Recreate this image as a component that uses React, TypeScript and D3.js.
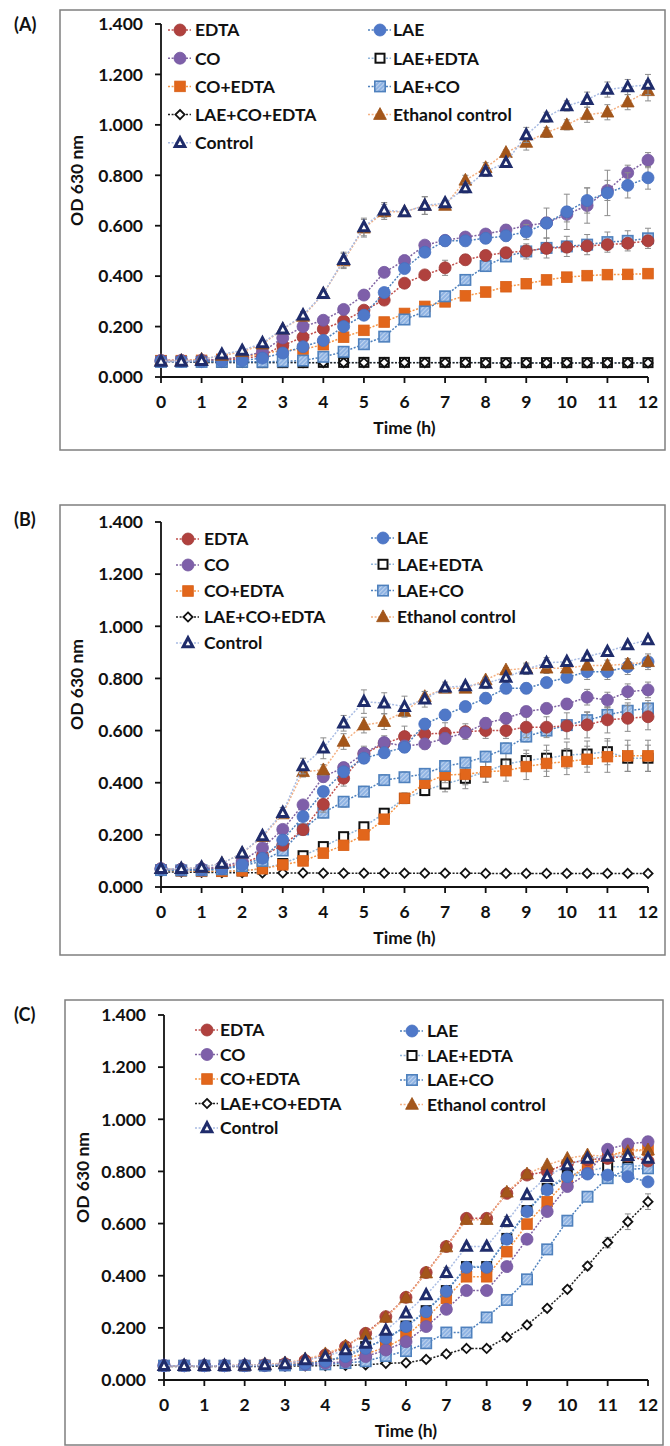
import React from 'react';
import * as d3 from 'd3';

const TIME = [0, 0.5, 1, 1.5, 2, 2.5, 3, 3.5, 4, 4.5, 5, 5.5, 6, 6.5, 7, 7.5, 8, 8.5, 9, 9.5, 10, 10.5, 11, 11.5, 12];
const X_TICKS = [0, 1, 2, 3, 4, 5, 6, 7, 8, 9, 10, 11, 12];
const Y_TICKS = [0, 0.2, 0.4, 0.6, 0.8, 1.0, 1.2, 1.4];
const LEGEND_LEFT = ['EDTA', 'CO', 'CO+EDTA', 'LAE+CO+EDTA', 'Control'];
const LEGEND_RIGHT = ['LAE', 'LAE+EDTA', 'LAE+CO', 'Ethanol control'];
const DRAW_ORDER = ['LAE+EDTA', 'LAE+CO+EDTA', 'CO+EDTA', 'LAE+CO', 'EDTA', 'CO', 'LAE', 'Ethanol control', 'Control'];

// ---------- Panel A ----------
const A_EDTA = [.065, .065, .065, .068, .072, .085, .125, .158, .19, .222, .265, .305, .372, .405, .433, .465, .482, .493, .50, .51, .515, .52, .525, .53, .54];
const A_LAE = [.062, .062, .062, .063, .065, .075, .095, .12, .145, .20, .245, .335, .43, .495, .54, .54, .55, .56, .575, .61, .655, .70, .73, .76, .79];
const A_CO = [.065, .065, .066, .07, .08, .10, .155, .20, .225, .268, .325, .415, .462, .523, .542, .555, .567, .583, .60, .612, .645, .68, .74, .81, .86];
const A_LAE_EDTA = [.065, .062, .06, .058, .058, .057, .057, .057, .058, .058, .058, .058, .058, .058, .058, .058, .057, .057, .057, .057, .057, .057, .057, .057, .057];
const A_CO_EDTA = [.065, .065, .066, .07, .078, .093, .105, .11, .128, .158, .185, .218, .252, .28, .298, .322, .337, .358, .37, .385, .396, .402, .406, .407, .41];
const A_LAE_CO = [.06, .06, .06, .06, .06, .06, .062, .065, .08, .10, .13, .16, .228, .26, .32, .385, .44, .478, .498, .512, .518, .525, .535, .54, .55];
const A_LAE_CO_EDTA = [.062, .06, .058, .058, .058, .058, .058, .057, .057, .057, .057, .057, .057, .057, .057, .057, .056, .056, .056, .056, .056, .056, .056, .056, .056];
const A_ETHANOL = [.065, .065, .07, .085, .10, .13, .19, .24, .33, .46, .59, .655, .655, .68, .68, .78, .83, .89, .93, .97, 1.0, 1.04, 1.05, 1.09, 1.135];
const A_CONTROL = [.062, .062, .065, .09, .105, .135, .19, .245, .33, .465, .595, .662, .655, .68, .69, .75, .815, .85, .96, 1.03, 1.075, 1.10, 1.14, 1.15, 1.16];
const A_ERR_CONTROL = [0, 0, 0, 0, 0, .01, .01, .015, .01, .03, .035, .03, .01, .035, .01, .02, .02, .01, .03, .02, .02, .03, .03, .03, .04];
const A_ERR_LAE = [0, 0, 0, 0, 0, 0, 0, 0, 0, 0, .01, .01, .015, .015, .02, .02, .02, .02, .03, .06, .07, .05, .09, .05, .045];
const A_ERR_CO = [0, 0, 0, 0, 0, 0, 0, 0, 0, 0, 0, 0, .01, .01, .01, .01, .01, .02, .02, .02, .03, .07, .04, .03, .03];
const A_ERR_LAE_CO = [0, 0, 0, 0, 0, 0, 0, 0, 0, 0, 0, 0, 0, 0, .01, .01, .02, .02, .03, .04, .04, .04, .04, .04, .04];
const A_ERR_EDTA = [0, 0, 0, 0, 0, 0, 0, 0, 0, 0, 0, 0, .01, .01, .03, .02, .02, .02, .02, .02, .02, .02, .02, .02, .02];

// ---------- Panel B ----------
const B_EDTA = [.07, .068, .068, .075, .09, .12, .16, .22, .317, .417, .51, .55, .577, .587, .59, .596, .60, .60, .613, .613, .618, .622, .641, .647, .653];
const B_LAE = [.068, .066, .066, .07, .085, .11, .18, .27, .366, .442, .494, .515, .536, .625, .66, .692, .724, .762, .762, .784, .804, .826, .826, .845, .864];
const B_CO = [.07, .068, .07, .078, .10, .15, .221, .315, .423, .458, .513, .554, .541, .549, .57, .592, .628, .647, .673, .685, .702, .728, .717, .749, .756];
const B_LAE_EDTA = [.065, .062, .06, .06, .062, .07, .09, .12, .155, .193, .231, .283, .34, .37, .395, .417, .442, .472, .485, .494, .506, .51, .519, .494, .494];
const B_CO_EDTA = [.065, .062, .06, .06, .062, .07, .085, .10, .13, .16, .20, .26, .34, .398, .43, .432, .442, .446, .462, .474, .481, .49, .50, .503, .503];
const B_LAE_CO = [.065, .064, .064, .068, .08, .10, .14, .221, .285, .327, .366, .41, .421, .434, .464, .477, .50, .532, .577, .60, .621, .64, .66, .676, .685];
const B_LAE_CO_EDTA = [.058, .057, .056, .055, .055, .054, .054, .054, .053, .053, .053, .053, .053, .053, .053, .053, .052, .052, .052, .052, .052, .052, .052, .052, .052];
const B_ETHANOL = [.07, .07, .075, .09, .13, .193, .28, .442, .449, .558, .621, .634, .673, .73, .762, .762, .794, .832, .839, .839, .839, .85, .85, .855, .864];
const B_CONTROL = [.07, .07, .075, .09, .13, .196, .285, .464, .532, .628, .711, .705, .692, .72, .766, .771, .781, .804, .835, .86, .864, .884, .903, .928, .948];
const B_ERR_CONTROL = [0, 0, 0, 0, 0, .01, .02, .03, .04, .03, .045, .04, .04, .03, .02, .01, .02, .01, .02, .02, .01, .01, .01, .01, .01];
const B_ERR_EDTA = [0, 0, 0, 0, 0, 0, .01, .02, .03, .03, .03, .03, .04, .04, .04, .03, .03, .03, .04, .04, .05, .05, .05, .05, .05];
const B_ERR_LAE_EDTA = [0, 0, 0, 0, 0, 0, 0, .01, .01, .01, .01, .01, .02, .02, .03, .04, .04, .04, .04, .05, .05, .05, .05, .05, .05];
const B_ERR_CO_EDTA = [0, 0, 0, 0, 0, 0, 0, 0, .01, .01, .01, .01, .02, .02, .03, .04, .04, .04, .05, .05, .05, .05, .06, .06, .06];
const B_ERR_LAE_CO = [0, 0, 0, 0, 0, 0, .01, .01, .02, .02, .02, .02, .02, .02, .02, .02, .02, .02, .02, .02, .02, .03, .03, .03, .03];
const B_ERR_ETHANOL = [0, 0, 0, 0, 0, .01, .01, .02, .02, .03, .03, .03, .02, .02, .01, .01, .01, .01, .02, .02, .02, .02, .02, .02, .02];

// ---------- Panel C ----------
const C_EDTA = [.055, .055, .055, .055, .056, .058, .062, .075, .096, .128, .179, .243, .317, .412, .512, .62, .62, .716, .786, .80, .83, .845, .85, .86, .84];
const C_LAE = [.055, .055, .055, .055, .055, .056, .058, .062, .072, .09, .121, .16, .205, .262, .34, .432, .432, .54, .646, .73, .78, .79, .786, .78, .76];
const C_CO = [.055, .055, .055, .055, .055, .056, .058, .06, .065, .07, .09, .115, .147, .205, .271, .343, .343, .435, .54, .646, .742, .793, .885, .905, .914];
const C_LAE_EDTA = [.055, .055, .055, .055, .055, .056, .058, .062, .07, .096, .128, .153, .207, .266, .343, .435, .435, .543, .65, .735, .786, .80, .818, .818, .825];
const C_CO_EDTA = [.055, .055, .055, .055, .055, .056, .058, .065, .075, .085, .10, .125, .166, .237, .313, .396, .396, .492, .598, .684, .767, .825, .857, .882, .882];
const C_LAE_CO = [.055, .055, .055, .055, .055, .055, .056, .058, .06, .065, .072, .092, .111, .141, .182, .182, .24, .307, .386, .501, .611, .703, .774, .808, .812];
const C_LAE_CO_EDTA = [.052, .052, .052, .052, .052, .052, .053, .054, .055, .056, .058, .064, .066, .079, .10, .121, .121, .164, .211, .275, .348, .437, .527, .607, .684];
const C_ETHANOL = [.055, .055, .055, .055, .056, .06, .065, .08, .10, .13, .175, .24, .315, .41, .51, .615, .615, .72, .79, .825, .85, .863, .857, .876, .882];
const C_CONTROL = [.055, .055, .055, .055, .056, .058, .062, .077, .09, .115, .14, .19, .256, .326, .412, .512, .512, .607, .71, .78, .825, .85, .857, .86, .85];
const C_ERR_LAE_CO_EDTA = [0, 0, 0, 0, 0, 0, 0, 0, 0, 0, 0, 0, 0, 0, 0, 0, 0, .01, .01, .01, .01, .015, .02, .03, .03];
const C_ERR_CONTROL = [0, 0, 0, 0, 0, 0, 0, 0, 0, 0, 0, 0, .01, .01, .02, .01, .01, .02, .01, .01, .01, .01, .01, .01, .02];
const C_ERR_CO = [0, 0, 0, 0, 0, 0, 0, 0, 0, 0, 0, 0, 0, 0, 0, 0, 0, 0, 0, 0, 0, .01, .01, .01, .02];

const STYLES: Record<string, { marker: string; fill: string; stroke: string; line: string }> = {
  'EDTA': { marker: 'circle', fill: '#B0413E', stroke: '#A03A37', line: '#C0504D' },
  'CO': { marker: 'circle', fill: '#7E5FA9', stroke: '#7358A0', line: '#8064A2' },
  'CO+EDTA': { marker: 'square', fill: '#E2661B', stroke: '#D85F16', line: '#F79646' },
  'LAE+CO+EDTA': { marker: 'diamond', fill: '#FFFFFF', stroke: '#111111', line: '#222222' },
  'Control': { marker: 'otriangle', fill: '#FFFFFF', stroke: '#1F2C6B', line: '#A9BCE3' },
  'LAE': { marker: 'circle', fill: '#4F78C8', stroke: '#4670C0', line: '#4F81BD' },
  'LAE+EDTA': { marker: 'osquare', fill: '#FFFFFF', stroke: '#111111', line: '#8FB4D9' },
  'LAE+CO': { marker: 'hsquare', fill: 'url(#hatch)', stroke: '#4F81BD', line: '#4F81BD' },
  'Ethanol control': { marker: 'triangle', fill: '#A4561A', stroke: '#9A5018', line: '#F4B183' },
};

type Panel = {
  label: string;
  series: Record<string, number[]>;
  errors: Record<string, number[]>;
  frame: [number, number, number, number];
  x0: number; x1: number; yTop: number; yBot: number;
  ylabX: number;
  legL: { mx: number; tx: number; y: number; dy: number };
  legR: { mx: number; tx: number; y: number; dy: number };
};

const PANELS: Panel[] = [
  {
    label: '(A)',
    series: { 'EDTA': A_EDTA, 'LAE': A_LAE, 'CO': A_CO, 'LAE+EDTA': A_LAE_EDTA, 'CO+EDTA': A_CO_EDTA, 'LAE+CO': A_LAE_CO, 'LAE+CO+EDTA': A_LAE_CO_EDTA, 'Ethanol control': A_ETHANOL, 'Control': A_CONTROL },
    errors: { 'Control': A_ERR_CONTROL, 'Ethanol control': A_ERR_CONTROL, 'LAE': A_ERR_LAE, 'CO': A_ERR_CO, 'LAE+CO': A_ERR_LAE_CO, 'EDTA': A_ERR_EDTA },
    frame: [60, 10, 605, 440], x0: 161, x1: 648, yTop: 24, yBot: 377, ylabX: 77,
    legL: { mx: 180, tx: 195, y: 30, dy: 28.2 },
    legR: { mx: 380, tx: 393, y: 30, dy: 28.2 },
  },
  {
    label: '(B)',
    series: { 'EDTA': B_EDTA, 'LAE': B_LAE, 'CO': B_CO, 'LAE+EDTA': B_LAE_EDTA, 'CO+EDTA': B_CO_EDTA, 'LAE+CO': B_LAE_CO, 'LAE+CO+EDTA': B_LAE_CO_EDTA, 'Ethanol control': B_ETHANOL, 'Control': B_CONTROL },
    errors: { 'Control': B_ERR_CONTROL, 'EDTA': B_ERR_EDTA, 'LAE+EDTA': B_ERR_LAE_EDTA, 'CO+EDTA': B_ERR_CO_EDTA, 'LAE+CO': B_ERR_LAE_CO, 'Ethanol control': B_ERR_ETHANOL, 'CO': B_ERR_LAE_CO, 'LAE': B_ERR_LAE_CO },
    frame: [60, 505, 605, 450], x0: 161, x1: 648, yTop: 522, yBot: 887, ylabX: 77,
    legL: { mx: 188, tx: 204, y: 539, dy: 26 },
    legR: { mx: 383, tx: 397, y: 538, dy: 26.3 },
  },
  {
    label: '(C)',
    series: { 'EDTA': C_EDTA, 'LAE': C_LAE, 'CO': C_CO, 'LAE+EDTA': C_LAE_EDTA, 'CO+EDTA': C_CO_EDTA, 'LAE+CO': C_LAE_CO, 'LAE+CO+EDTA': C_LAE_CO_EDTA, 'Ethanol control': C_ETHANOL, 'Control': C_CONTROL },
    errors: { 'LAE+CO+EDTA': C_ERR_LAE_CO_EDTA, 'Control': C_ERR_CONTROL, 'CO': C_ERR_CO },
    frame: [65, 1000, 598, 445], x0: 164, x1: 648, yTop: 1015, yBot: 1380, ylabX: 83,
    legL: { mx: 207, tx: 220, y: 1030, dy: 24.5 },
    legR: { mx: 412, tx: 427, y: 1031, dy: 24.5 },
  },
];

const FONT = 'Lato, "Open Sans", sans-serif';

function Marker({ name, x, y }: { name: string; x: number; y: number }) {
  const s = STYLES[name];
  switch (s.marker) {
    case 'circle':
      return <circle cx={x} cy={y} r={6} fill={s.fill} stroke={s.stroke} strokeWidth={0.8} />;
    case 'square':
      return <rect x={x - 5.3} y={y - 5.3} width={10.6} height={10.6} fill={s.fill} stroke={s.stroke} strokeWidth={0.8} />;
    case 'osquare':
      return <rect x={x - 4.5} y={y - 4.5} width={9} height={9} fill={s.fill} stroke={s.stroke} strokeWidth={2} />;
    case 'hsquare':
      return <rect x={x - 5.2} y={y - 5.2} width={10.4} height={10.4} fill={s.fill} stroke={s.stroke} strokeWidth={1.6} />;
    case 'diamond':
      return <path d={`M${x},${y - 4.6}L${x + 4.6},${y}L${x},${y + 4.6}L${x - 4.6},${y}Z`} fill={s.fill} stroke={s.stroke} strokeWidth={1.8} />;
    case 'triangle':
      return <path d={`M${x},${y - 7}L${x + 6.4},${y + 4.8}L${x - 6.4},${y + 4.8}Z`} fill={s.fill} stroke={s.stroke} strokeWidth={0.8} />;
    case 'otriangle':
      return <path d={`M${x},${y - 5.2}L${x + 4.8},${y + 3.8}L${x - 4.8},${y + 3.8}Z`} fill={s.fill} stroke={s.stroke} strokeWidth={3} strokeLinejoin="miter" />;
    default:
      return null;
  }
}

function PanelView({ p }: { p: Panel }) {
  const x = d3.scaleLinear().domain([0, 12]).range([p.x0, p.x1]);
  const y = d3.scaleLinear().domain([0, 1.4]).range([p.yBot, p.yTop]);
  const line = d3.line<number>().x((_, i) => x(TIME[i])).y((v) => y(v));
  const [fx, fy, fw, fh] = p.frame;
  const legendRow = (name: string, cfg: { mx: number; tx: number; y: number; dy: number }, i: number) => {
    const ly = cfg.y + i * cfg.dy;
    const s = STYLES[name];
    return (
      <g key={name}>
        <line x1={cfg.mx - 12} x2={cfg.mx + 11} y1={ly} y2={ly} stroke={s.line} strokeWidth={1.5} strokeDasharray="2,1.6" />
        <Marker name={name} x={cfg.mx} y={ly} />
        <text x={cfg.tx} y={ly} dy="0.36em" fontSize={17.5} fontWeight={700} fill="#111">{name}</text>
      </g>
    );
  };
  return (
    <g fontFamily={FONT}>
      <rect x={fx} y={fy} width={fw} height={fh} fill="none" stroke="#7f7f7f" strokeWidth={1.5} />
      <text x={14} y={fy + 15} dy="0.36em" fontSize={18} fontWeight={700} fill="#111">{p.label}</text>
      <line x1={p.x0} x2={p.x0} y1={p.yTop} y2={p.yBot} stroke="#111" strokeWidth={1.8} />
      {Y_TICKS.map((t) => (
        <g key={`yt${t}`}>
          <line x1={p.x0 - 6} x2={p.x0} y1={y(t)} y2={y(t)} stroke="#111" strokeWidth={1.8} />
          <text x={p.x0 - 18} y={y(t)} dy="0.36em" textAnchor="end" fontSize={17.5} fontWeight={700} fill="#111">{d3.format('.3f')(t)}</text>
        </g>
      ))}
      <line x1={p.x0} x2={p.x1} y1={p.yBot} y2={p.yBot} stroke="#111" strokeWidth={1.8} />
      {X_TICKS.map((t) => (
        <g key={`xt${t}`}>
          <line x1={x(t)} x2={x(t)} y1={p.yBot} y2={p.yBot + 6} stroke="#111" strokeWidth={1.8} />
          <text x={x(t)} y={p.yBot + 25} dy="0.36em" textAnchor="middle" fontSize={17.5} fontWeight={700} fill="#111">{t}</text>
        </g>
      ))}
      <text x={(p.x0 + p.x1) / 2} y={p.yBot + 51} dy="0.36em" textAnchor="middle" fontSize={17.5} fontWeight={700} fill="#111">Time (h)</text>
      <text transform={`translate(${p.ylabX},${(p.yTop + p.yBot) / 2 - 20}) rotate(-90)`} dy="0.36em" textAnchor="middle" fontSize={17.5} fontWeight={700} fill="#111">OD 630 nm</text>
      {LEGEND_LEFT.map((n, i) => legendRow(n, p.legL, i))}
      {LEGEND_RIGHT.map((n, i) => legendRow(n, p.legR, i))}
      {DRAW_ORDER.map((name) => {
        const vals = p.series[name];
        const err = p.errors[name];
        const s = STYLES[name];
        return (
          <g key={name}>
            {err && vals.map((v, i) => err[i] > 0 ? (
              <g key={i} stroke="#8c8c8c" strokeWidth={1}>
                <line x1={x(TIME[i])} x2={x(TIME[i])} y1={y(v - err[i])} y2={y(v + err[i])} />
                <line x1={x(TIME[i]) - 3} x2={x(TIME[i]) + 3} y1={y(v + err[i])} y2={y(v + err[i])} />
                <line x1={x(TIME[i]) - 3} x2={x(TIME[i]) + 3} y1={y(v - err[i])} y2={y(v - err[i])} />
              </g>
            ) : null)}
            <path d={line(vals) || ''} fill="none" stroke={s.line} strokeWidth={1.5} strokeDasharray="2,1.6" />
            {vals.map((v, i) => <Marker key={i} name={name} x={x(TIME[i])} y={y(v)} />)}
          </g>
        );
      })}
    </g>
  );
}

export default function App() {
  return (
    <svg width={670} height={1446} style={{ position: 'absolute', left: 0, top: 0, background: '#fff' }}>
      <defs>
        <pattern id="hatch" width={3} height={3} patternUnits="userSpaceOnUse" patternTransform="rotate(45)">
          <rect width={3} height={3} fill="#8FB3E3" />
          <line x1={0} y1={0} x2={0} y2={3} stroke="#E6EEF8" strokeWidth={1.1} />
        </pattern>
      </defs>
      <rect width={670} height={1446} fill="#fff" />
      {PANELS.map((p) => <PanelView key={p.label} p={p} />)}
    </svg>
  );
}
